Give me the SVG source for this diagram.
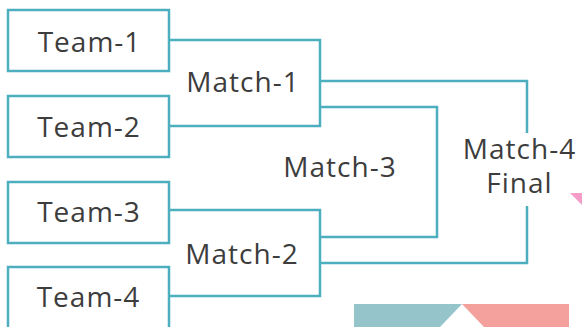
<svg xmlns="http://www.w3.org/2000/svg" width="582" height="327" viewBox="0 0 582 327">
<style>
.box{fill:#fff;stroke:#4caebf;stroke-width:2.5}
.ln{fill:none;stroke:#4caebf;stroke-width:2.5}
.t{font-family:"Open Sans","Liberation Sans",sans-serif;font-size:28px;letter-spacing:1px;fill:#3d3d3d;text-anchor:middle}
</style>
<rect width="582" height="327" fill="#fff"/>
<g id="deco">
<polygon points="354,304 462,304 440,327 354,327" fill="#95c5ca"/>
<polygon points="462,304 569,304 569,327 484,327" fill="#f4a09c"/>
<polygon points="570,193 582,193 582,205" fill="#f59dc8"/>
</g>
<g id="connectors">
<polyline class="ln" points="169,40 320,40 320,126 169,126"/>
<polyline class="ln" points="169,210 320,210 320,296 169,296"/>
<polyline class="ln" points="320,81 527,81 527,133"/>
<polyline class="ln" points="320,107 437,107 437,237 320,237"/>
<polyline class="ln" points="320,263 527,263 527,206"/>
</g>
<g id="team1"><rect class="box" x="8" y="10" width="161" height="61"/><text class="t" x="89.5" y="52">Team-1</text></g>
<g id="team2"><rect class="box" x="8" y="96" width="161" height="61"/><text class="t" x="89" y="137">Team-2</text></g>
<g id="team3"><rect class="box" x="8" y="182" width="161" height="61"/><text class="t" x="89" y="222">Team-3</text></g>
<g id="team4"><rect class="box" x="8" y="267" width="161" height="62"/><text class="t" x="88.5" y="307">Team-4</text></g>
<g id="match1"><text class="t" x="243" y="92">Match-1</text></g>
<g id="match2"><text class="t" x="242" y="264">Match-2</text></g>
<g id="match3"><text class="t" x="340" y="177">Match-3</text></g>
<g id="match4"><text class="t" x="519.5" y="159">Match-4</text><text class="t" x="519.5" y="193">Final</text></g>
</svg>
